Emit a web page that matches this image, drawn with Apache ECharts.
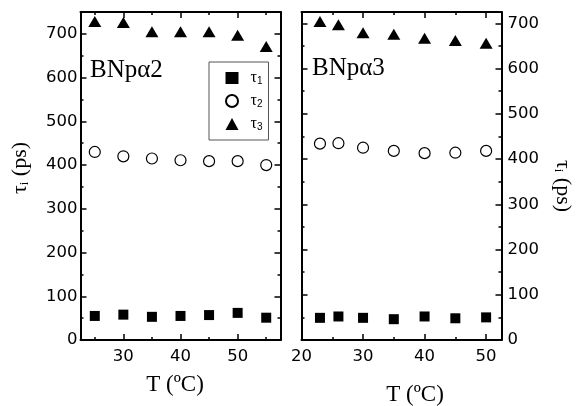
<!DOCTYPE html>
<html>
<head>
<meta charset="utf-8">
<script src="https://cdn.jsdelivr.net/npm/echarts@6/dist/echarts.min.js"></script>
<style>
html,body{margin:0;padding:0;background:#fff;}
#chart{width:576px;height:406px;}
</style>
</head>
<body>
<div id="chart"></div>
<script>
// ---- data ----
const seriesNames = ['τ1', 'τ2', 'τ3'];
const tempA = [25, 30, 35, 40, 45, 50, 55];
const tau1A = [55, 58, 53, 55, 57, 62, 51];
const tau2A = [430, 420, 415, 411, 409, 409, 400];
const tau3A = [728, 726, 705, 705, 705, 697, 671];
const tempB = [23, 26, 30, 35, 40, 45, 50];
const tau1B = [49, 52, 49, 46, 52, 48, 50];
const tau2B = [434, 435, 425, 418, 413, 414, 418];
const tau3B = [704, 697, 679, 676, 667, 662, 656];
const xMajorA = [30, 40, 50];
const xMinorA = [25, 35, 45, 55];
const xMajorB = [20, 30, 40, 50];
const xMinorB = [25, 35, 45];
const yMajor = [0, 100, 200, 300, 400, 500, 600, 700];
const yMinor = [50, 150, 250, 350, 450, 550, 650];
const panelLabels = ['BNpα2', 'BNpα3'];
const xTitle = 'T (ºC)';

// ---- layout ----
const rectA = {left: 80.5, top: 12, width: 200, height: 328};
const rectB = {left: 301.5, top: 12, width: 200, height: 328};
const rangeXA = [22.5, 57.5], rangeXB = [20, 52.5];
const rangeYA = [0, 750], rangeYB = [0, 725];
const labelFont = {color: '#000', fontFamily: 'DejaVu Sans', fontSize: 16.5};

function xAx(grid, pos, range, ticks, labels, major) {
  return {
    type: 'value', gridIndex: grid, position: pos, min: range[0], max: range[1],
    axisLine: {show: major, onZero: false, lineStyle: {color: '#000', width: 2}},
    axisTick: {show: true, inside: true, length: major ? 6 : 3, customValues: ticks, lineStyle: {color: '#000', width: 1.5}},
    axisLabel: labels ? Object.assign({show: true, margin: 8, customValues: labels}, labelFont) : {show: false},
    splitLine: {show: false}
  };
}
function yAx(grid, pos, range, ticks, labels, major, margin) {
  return {
    type: 'value', gridIndex: grid, position: pos, min: range[0], max: range[1],
    axisLine: {show: major, onZero: false, lineStyle: {color: '#000', width: 2}},
    axisTick: {show: true, inside: true, length: major ? 6 : 3, customValues: ticks, lineStyle: {color: '#000', width: 1.5}},
    axisLabel: labels ? Object.assign({show: true, margin: margin, customValues: labels}, labelFont) : {show: false},
    splitLine: {show: false}
  };
}

const xAxis = [
  xAx(0, 'bottom', rangeXA, xMajorA, xMajorA, true),   // 0
  xAx(0, 'top', rangeXA, xMajorA, null, true),         // 1
  xAx(1, 'bottom', rangeXA, xMinorA, null, false),     // 2
  xAx(1, 'top', rangeXA, xMinorA, null, false),        // 3
  xAx(2, 'bottom', rangeXB, xMajorB, xMajorB, true),   // 4
  xAx(2, 'top', rangeXB, xMajorB, null, true),         // 5
  xAx(3, 'bottom', rangeXB, xMinorB, null, false),     // 6
  xAx(3, 'top', rangeXB, xMinorB, null, false)         // 7
];
const yAxis = [
  yAx(0, 'left', rangeYA, yMajor, yMajor, true, 3),    // 0
  yAx(0, 'right', rangeYA, yMajor, null, true),        // 1
  yAx(1, 'left', rangeYA, yMinor, null, false),        // 2
  yAx(1, 'right', rangeYA, yMinor, null, false),       // 3
  yAx(2, 'left', rangeYB, yMajor, null, true),         // 4
  yAx(2, 'right', rangeYB, yMajor, yMajor, true, 6),   // 5
  yAx(3, 'left', rangeYB, yMinor, null, false),        // 6
  yAx(3, 'right', rangeYB, yMinor, null, false)        // 7
];

const styles = [
  {symbol: 'rect', symbolSize: 10, itemStyle: {color: '#000', opacity: 1}},
  {symbol: 'circle', symbolSize: 11, itemStyle: {color: '#fff', borderColor: '#000', borderWidth: 1.2, opacity: 1}},
  {symbol: 'triangle', symbolSize: [13, 11], itemStyle: {color: '#000', opacity: 1}}
];
function zip(xs, ys) { return xs.map((x, i) => [x, ys[i]]); }
const dataA = [tau1A, tau2A, tau3A], dataB = [tau1B, tau2B, tau3B];
const series = [];
seriesNames.forEach((n, i) => {
  series.push(Object.assign({type: 'scatter', name: n, xAxisIndex: 0, yAxisIndex: 0, data: zip(tempA, dataA[i]), z: 5}, styles[i]));
  series.push(Object.assign({type: 'scatter', name: n, xAxisIndex: 4, yAxisIndex: 5, data: zip(tempB, dataB[i]), z: 5}, styles[i]));
});

const rich = {
  t: {fontFamily: 'Liberation Serif', fontSize: 16, color: '#000', lineHeight: 16},
  s: {fontFamily: 'Liberation Sans', fontSize: 10, color: '#000', verticalAlign: 'bottom', lineHeight: 8}
};
const titleRich = {
  t: {fontFamily: 'Liberation Serif', fontSize: 22, color: '#000'},
  s: {fontFamily: 'Liberation Serif', fontSize: 13, color: '#000', padding: [9, 0, 0, 0]}
};

const chart = echarts.init(document.getElementById('chart'), null, {renderer: 'canvas'});
chart.setOption({
  animation: false,
  backgroundColor: '#fff',
  grid: [
    Object.assign({}, rectA), Object.assign({}, rectA),
    Object.assign({}, rectB), Object.assign({}, rectB)
  ],
  xAxis: xAxis,
  yAxis: yAxis,
  legend: {
    data: [{name: 'τ1', icon: 'rect'}, {name: 'τ2', icon: 'circle'}, {name: 'τ3', icon: 'triangle'}],
    orient: 'vertical', left: 209, top: 62,
    padding: [8, 6, 8, 16], itemWidth: 13, itemHeight: 12, itemGap: 7,
    borderColor: '#555', borderWidth: 1, backgroundColor: '#fff',
    selectedMode: false, z: 10,
    formatter: function (name) { return '{t|τ}{s|' + name.slice(1) + '}'; },
    textStyle: {padding: [0, 0, 0, 7], rich: rich}
  },
  graphic: [
    {type: 'text', left: 90, top: 58, z: 20, style: {text: panelLabels[0], font: '25px "Liberation Serif"', fill: '#000'}},
    {type: 'text', left: 312, top: 56, z: 20, style: {text: panelLabels[1], font: '25px "Liberation Serif"', fill: '#000'}},
    {type: 'text', x: 175, y: 385, z: 20, style: {text: xTitle, font: '23px "Liberation Serif"', fill: '#000', align: 'center', verticalAlign: 'middle'}},
    {type: 'text', x: 415, y: 395, z: 20, style: {text: xTitle, font: '23px "Liberation Serif"', fill: '#000', align: 'center', verticalAlign: 'middle'}},
    {type: 'text', x: 20, y: 168, rotation: Math.PI / 2, z: 20,
     style: {text: '{t|τ}{s|i}{t| (ps)}', rich: titleRich, align: 'center', verticalAlign: 'middle'}},
    {type: 'text', x: 563, y: 186, rotation: -Math.PI / 2, z: 20,
     style: {text: '{t|τ}{s|i}{t| (ps)}', rich: titleRich, align: 'center', verticalAlign: 'middle'}}
  ],
  series: series
});
</script>
</body>
</html>
